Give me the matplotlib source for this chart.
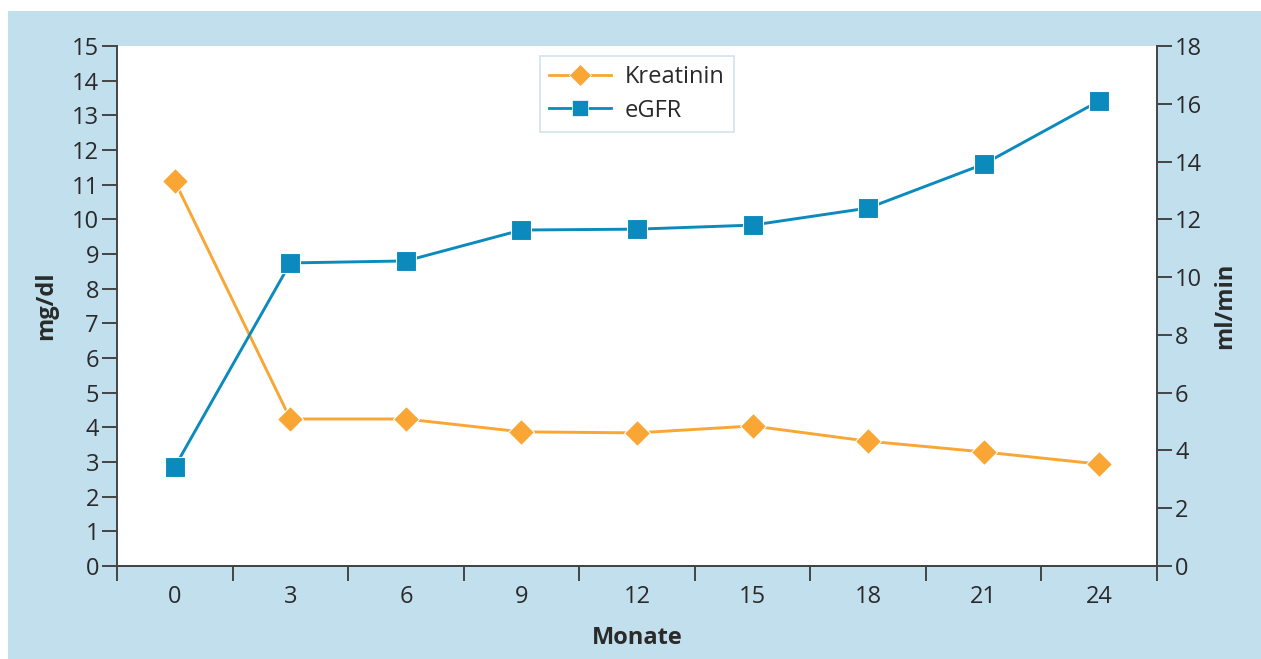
import matplotlib
matplotlib.use("Agg")
import matplotlib.pyplot as plt
from matplotlib.patches import Rectangle
from matplotlib.lines import Line2D

months = ["0", "3", "6", "9", "12", "15", "18", "21", "24"]
kreatinin = [11.1, 4.24, 4.24, 3.87, 3.84, 4.04, 3.6, 3.29, 2.94]
egfr = [3.43, 10.49, 10.56, 11.63, 11.66, 11.8, 12.39, 13.91, 16.1]

orange = "#F9A634"
blue = "#0A8ABD"
bg = "#C2DFEE"
dark = "#2a2a2a"

plt.rcParams['font.family'] = ['Open Sans', 'DejaVu Sans']

fig = plt.figure(figsize=(12.61, 6.59), dpi=100)
fig.patch.set_facecolor("white")
fig.patches.append(Rectangle((8/1261, 0), 1 - 8/1261, (659 - 11)/659,
                             transform=fig.transFigure, facecolor=bg,
                             edgecolor="none", zorder=-10))

ax = fig.add_axes([117/1261, 1 - 566/659, (1157 - 117)/1261, (566 - 46)/659])
ax.set_facecolor("white")
ax2 = ax.twinx()

x = list(range(len(months)))
l1, = ax.plot(x, kreatinin, color=orange, lw=2.1, marker="D", markersize=13,
              markerfacecolor=orange, markeredgecolor="white", markeredgewidth=0.8,
              zorder=3, clip_on=False)
l2, = ax2.plot(x, egfr, color=blue, lw=2.1, marker="s", markersize=15,
               markerfacecolor=blue, markeredgecolor="white", markeredgewidth=0.8,
               zorder=3, clip_on=False)

ax.set_xlim(-0.5, len(months) - 0.5)
ax.set_ylim(0, 15)
ax2.set_ylim(0, 18)
ax.set_yticks(range(0, 16))
ax2.set_yticks(range(0, 19, 2))

ax.set_xticks([i - 0.5 for i in range(len(months) + 1)])
ax.set_xticklabels([])
ax.set_xticks(x, minor=True)
ax.set_xticklabels(months, minor=True)
ax.tick_params(axis="x", which="minor", length=0, pad=14, labelsize=17, colors=dark)
ax.tick_params(axis="x", which="major", length=11, width=1.4, direction="out", color="#444")
ax.tick_params(axis="y", length=11, width=1.4, direction="out", color="#444",
               labelsize=17, labelcolor=dark, pad=2)
ax2.tick_params(axis="y", length=11, width=1.4, direction="out", color="#444",
                labelsize=17, labelcolor=dark, pad=2)

for a in (ax, ax2):
    a.spines["top"].set_visible(False)
    for s in ("left", "right", "bottom"):
        a.spines[s].set_color("#444")
        a.spines[s].set_linewidth(1.4)
ax2.spines["left"].set_visible(False)
ax.spines["right"].set_visible(False)

ax.set_ylabel("mg/dl", fontsize=17, fontweight="bold", color=dark, labelpad=10)
ax2.set_ylabel("ml/min", fontsize=17, fontweight="bold", color=dark, labelpad=8)
ax.set_xlabel("Monate", fontsize=17, fontweight="bold", color=dark, labelpad=12)

h1 = Line2D([], [], color=orange, lw=2, marker="D", markersize=11,
            markerfacecolor=orange, markeredgecolor="white", markeredgewidth=0.5)
h2 = Line2D([], [], color=blue, lw=2, marker="s", markersize=11,
            markerfacecolor=blue, markeredgecolor="white", markeredgewidth=0.5)
leg = ax2.legend([h1, h2], ["Kreatinin", "eGFR"], loc="upper center",
                 bbox_to_anchor=(0.5, 1.004), fontsize=17, frameon=True,
                 fancybox=False, edgecolor="#C6DCE8", handlelength=2.6,
                 borderpad=0.4, labelspacing=0.4, handletextpad=0.6)
leg.get_frame().set_linewidth(1.2)
for t in leg.get_texts():
    t.set_color(dark)

fig.savefig("out.png", dpi=100, facecolor=fig.get_facecolor())
